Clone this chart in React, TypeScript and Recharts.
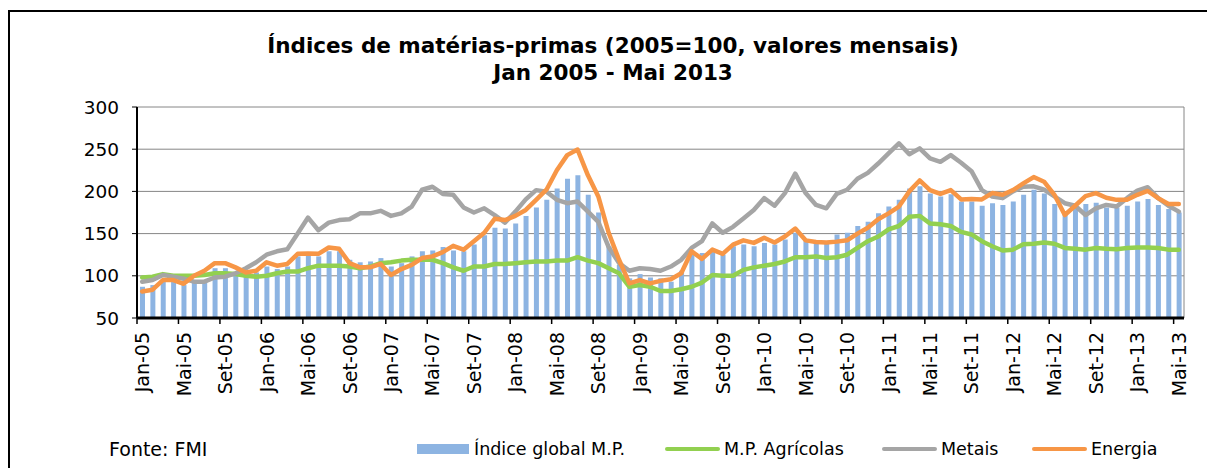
import React from 'react';
import { ComposedChart, Bar, Line, XAxis, YAxis, CartesianGrid, ReferenceLine } from 'recharts';

const MONTHS = ['Jan', 'Fev', 'Mar', 'Abr', 'Mai', 'Jun', 'Jul', 'Ago', 'Set', 'Out', 'Nov', 'Dez'];
const YEARS = [2005, 2006, 2007, 2008, 2009, 2010, 2011, 2012, 2013];
const LAST_MONTH_2013 = 4; // Mai

const categories: string[] = [];
YEARS.forEach((y) => {
  MONTHS.forEach((m, i) => {
    if (y === 2013 && i > LAST_MONTH_2013) return;
    categories.push(`${m}-${String(y).slice(2)}`);
  });
});

const indiceGlobal = [
  87, 89, 93, 93, 89, 95, 95, 109, 109, 103, 101, 104,
  111, 108, 111, 123, 124, 123, 129, 129, 119, 116, 117, 121,
  111, 115, 123, 129, 130, 134, 130, 129, 137, 148, 157, 156,
  162, 171, 181, 190, 203.5, 215, 219, 196, 175, 135, 113, 97,
  102, 98, 97, 93, 106, 129, 127, 129, 125, 135, 137, 135,
  139, 137, 143, 151, 143, 141, 141, 149, 151, 159, 164, 174,
  182, 190, 203.5, 206, 197.5, 194, 196.5, 188, 188, 183, 186, 184,
  188, 196, 202, 197.5, 185, 174, 180, 185, 186.5, 181, 181, 183,
  188, 191, 184, 179, 175,
];

const agricolas = [
  98, 99, 102, 100, 100, 100, 101, 103, 103, 102, 100, 99,
  100, 103, 105, 105, 109, 112, 112, 112, 111, 109, 111, 115,
  116, 118, 119, 119, 119, 115, 110, 106, 111, 111, 114, 114,
  115, 116, 117, 117, 118, 118, 122, 118, 115, 109, 103, 87,
  89, 87, 82, 82, 84, 87, 92, 101, 100, 100, 107, 110,
  112, 114, 117, 122, 122, 123, 121, 122, 125, 133, 141, 146.5,
  155, 159, 170, 171, 162, 161, 159, 152, 149, 141, 135, 130,
  131, 137.5, 138, 139.5, 138, 133, 132, 131, 133, 132, 131.5, 133,
  133.5, 133.5, 133, 131, 131,
];

const metais = [
  93, 95, 101, 99, 96.5, 93, 93, 98, 99, 103, 109, 116,
  125, 129, 131.5, 150, 169, 154, 163, 166, 167, 174, 174, 177,
  171, 174, 182, 202, 205.5, 197, 196, 181, 175, 180, 172, 163,
  176, 190.5, 201.5, 199.5, 190, 186, 188, 176, 164, 134, 115, 106,
  109, 108, 106, 111, 119, 133, 141, 162, 151, 158, 168, 178,
  192, 183, 198, 221, 198, 184, 180, 197, 202, 215, 222, 233,
  245, 257, 244, 251, 239, 235, 243, 234, 224, 201.5, 194, 192,
  200, 205.5, 206, 202, 194, 186, 183, 172, 180, 184, 182, 192,
  201, 205, 192, 183, 176,
];

const energia = [
  81.5, 83.5, 95, 95, 90.5, 100, 106, 115, 115, 110, 104, 106,
  116, 112, 114, 126, 126.5, 126, 133.5, 132, 115, 110, 110, 114,
  101, 108, 113, 121, 123, 128, 135.5, 131, 141, 151, 167.5, 166,
  171, 178, 190, 202, 225, 243, 249.6, 219, 194, 151, 119, 91,
  95, 91, 94, 96, 103, 129, 120, 131, 126, 137, 142, 139,
  145, 139.5, 146.5, 156, 142, 140, 139.5, 140.5, 142, 150, 157, 167,
  174, 182, 200, 213, 201.5, 197, 201.5, 190.5, 191, 190.5, 198, 196,
  201.5, 209.5, 217, 211.5, 196, 172, 183, 194.5, 198, 192.5, 190, 190,
  196, 200.5, 192, 185, 185,
];

const Y_TICKS = [50, 100, 150, 200, 250, 300];

const SERIES_NAMES = ['Índice global M.P.', 'M.P. Agrícolas', 'Metais', 'Energia'];
const SERIES_COLORS = ['#8DB4E2', '#92D050', '#A5A5A5', '#F79646'];

const data = categories.map((c, i) => ({
  cat: c,
  global: indiceGlobal[i],
  agric: agricolas[i],
  metais: metais[i],
  energia: energia[i],
}));

const W = 1207;
const H = 468;
const MARGIN = { top: 107, right: 23, bottom: 70, left: 0 };
const Y_AXIS_W = 137;
const PLOT_W = W - MARGIN.left - MARGIN.right - Y_AXIS_W;
const BAND = PLOT_W / categories.length;
const FONT = '"DejaVu Sans", Verdana, sans-serif';

const XTick = (props: any) => {
  const { x, y, payload } = props;
  const ty = y + 14;
  return (
    <g>
      <line x1={x - BAND / 2} x2={x - BAND / 2} y1={y} y2={y + 6} stroke="#000" strokeWidth={1.5} />
      <text
        x={x}
        y={ty}
        transform={`rotate(-90, ${x}, ${ty})`}
        textAnchor="end"
        dominantBaseline="central"
        fontSize={19}
        fill="#000"
        fontFamily={FONT}
      >
        {payload.value}
      </text>
    </g>
  );
};

const LEGEND_LEFTS = [417, 665, 882, 1032];

const lineProps = {
  strokeWidth: 4.5,
  dot: false,
  type: 'linear' as const,
  strokeLinejoin: 'round' as const,
  strokeLinecap: 'round' as const,
  isAnimationActive: false,
};

export default function App() {
  return (
    <div
      style={{
        position: 'absolute',
        left: 0,
        top: 0,
        width: W,
        height: H,
        overflow: 'hidden',
        background: '#fff',
        fontFamily: FONT,
      }}
    >
      <div
        style={{
          position: 'absolute',
          left: 8,
          top: 10,
          width: W + 20,
          height: H + 20,
          border: '2px solid #000',
          boxSizing: 'border-box',
        }}
      />
      <div
        style={{
          position: 'absolute',
          left: 0,
          top: 32,
          width: 1226,
          textAlign: 'center',
          fontWeight: 'bold',
          fontSize: 21.5,
          lineHeight: '27px',
          color: '#000',
        }}
      >
        <div>Índices de matérias-primas (2005=100, valores mensais)</div>
        <div>Jan 2005 - Mai 2013</div>
      </div>
      <div style={{ position: 'absolute', left: 0, top: 0 }}>
        <ComposedChart width={W} height={H} data={data} margin={MARGIN}>
          <CartesianGrid vertical={false} stroke="#868686" strokeWidth={1} />
          <XAxis
            dataKey="cat"
            interval={3}
            tickLine={false}
            tickSize={0}
            tickMargin={0}
            height={80}
            axisLine={{ stroke: '#000', strokeWidth: 3 }}
            tick={<XTick />}
          />
          <YAxis
            width={Y_AXIS_W}
            domain={[50, 300]}
            ticks={Y_TICKS}
            allowDataOverflow
            tickSize={5}
            tickMargin={13}
            axisLine={{ stroke: '#000', strokeWidth: 2 }}
            tickLine={{ stroke: '#000', strokeWidth: 1 }}
            tick={{ fontSize: 18.5, fill: '#000', fontFamily: FONT }}
          />
          <ReferenceLine x={categories[categories.length - 1]} position="end" stroke="#868686" strokeWidth={1} />
          <Bar dataKey="global" name={SERIES_NAMES[0]} fill={SERIES_COLORS[0]} barSize={5} isAnimationActive={false} />
          <Line dataKey="agric" name={SERIES_NAMES[1]} stroke={SERIES_COLORS[1]} {...lineProps} />
          <Line dataKey="metais" name={SERIES_NAMES[2]} stroke={SERIES_COLORS[2]} {...lineProps} />
          <Line dataKey="energia" name={SERIES_NAMES[3]} stroke={SERIES_COLORS[3]} {...lineProps} />
        </ComposedChart>
      </div>
      <div
        style={{
          position: 'absolute',
          left: 109,
          top: 438,
          height: 22,
          lineHeight: '22px',
          fontSize: 19,
          color: '#000',
          whiteSpace: 'nowrap',
        }}
      >
        Fonte: FMI
      </div>
      {SERIES_NAMES.map((name, i) => (
        <div
          key={name}
          style={{
            position: 'absolute',
            left: LEGEND_LEFTS[i],
            top: 438,
            height: 22,
            display: 'flex',
            alignItems: 'center',
            fontSize: 17.5,
            color: '#000',
            whiteSpace: 'nowrap',
          }}
        >
          {i === 0 ? (
            <div style={{ width: 52, height: 10, background: SERIES_COLORS[i], marginRight: 5 }} />
          ) : (
            <div
              style={{
                width: 55,
                height: 4.5,
                borderRadius: 2,
                background: SERIES_COLORS[i],
                marginRight: 4,
              }}
            />
          )}
          <span>{name}</span>
        </div>
      ))}
    </div>
  );
}
